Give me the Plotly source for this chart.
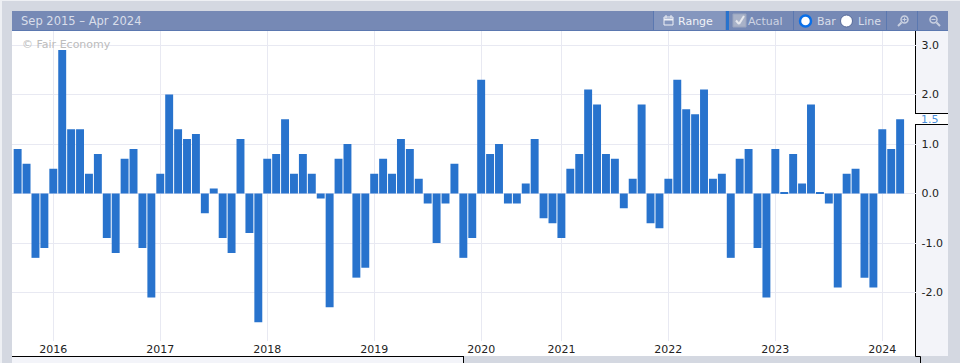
import plotly.graph_objects as go

W, H = 960, 363
months = [
    "2015-09", "2015-10", "2015-11", "2015-12",
    "2016-01", "2016-02", "2016-03", "2016-04", "2016-05", "2016-06", "2016-07", "2016-08", "2016-09", "2016-10", "2016-11", "2016-12",
    "2017-01", "2017-02", "2017-03", "2017-04", "2017-05", "2017-06", "2017-07", "2017-08", "2017-09", "2017-10", "2017-11", "2017-12",
    "2018-01", "2018-02", "2018-03", "2018-04", "2018-05", "2018-06", "2018-07", "2018-08", "2018-09", "2018-10", "2018-11", "2018-12",
    "2019-01", "2019-02", "2019-03", "2019-04", "2019-05", "2019-06", "2019-07", "2019-08", "2019-09", "2019-10", "2019-11", "2019-12",
    "2020-01", "2020-02", "2020-06", "2020-07", "2020-08", "2020-09", "2020-10", "2020-11", "2020-12",
    "2021-01", "2021-02", "2021-03", "2021-04", "2021-05", "2021-06", "2021-07", "2021-08", "2021-09", "2021-10", "2021-11", "2021-12",
    "2022-01", "2022-02", "2022-03", "2022-04", "2022-05", "2022-06", "2022-07", "2022-08", "2022-09", "2022-10", "2022-11", "2022-12",
    "2023-01", "2023-02", "2023-03", "2023-04", "2023-05", "2023-06", "2023-07", "2023-08", "2023-09", "2023-10", "2023-11", "2023-12",
    "2024-01", "2024-02", "2024-03",
]
values = [
    0.9, 0.6, -1.3, -1.1,
    0.5, 2.9, 1.3, 1.3, 0.4, 0.8, -0.9, -1.2, 0.7, 0.9, -1.1, -2.1,
    0.4, 2.0, 1.3, 1.1, 1.2, -0.4, 0.1, -0.9, -1.2, 1.1, -0.8, -2.6,
    0.7, 0.8, 1.5, 0.4, 0.8, 0.4, -0.1, -2.3, 0.7, 1.0, -1.7, -1.5,
    0.4, 0.7, 0.4, 1.1, 0.9, 0.3, -0.2, -1.0, -0.2, 0.6, -1.3, -0.9,
    2.3, 0.8, 1.0, -0.2, -0.2, 0.2, 1.1, -0.5, -0.6,
    -0.9, 0.5, 0.8, 2.1, 1.8, 0.8, 0.7, -0.3, 0.3, 1.8, -0.6, -0.7,
    0.3, 2.3, 1.7, 1.6, 2.1, 0.3, 0.4, -1.3, 0.7, 0.9, -1.1, -2.1,
    0.9, 0.02, 0.8, 0.2, 1.8, 0.02, -0.2, -1.9, 0.4, 0.5, -1.7, -1.9,
    1.3, 0.9, 1.5,
]
year_ticks = ["2016-01", "2017-01", "2018-01", "2019-01", "2020-01", "2021-01", "2022-01", "2023-01", "2024-01"]
year_labels = ["2016", "2017", "2018", "2019", "2020", "2021", "2022", "2023", "2024"]
y_ticks = [3, 2, 1, 0, -1, -2]
y_labels = ["3.0", "2.0", "1.0", "0.0", "-1.0", "-2.0"]

FONT = "DejaVu Sans"
BG = "#d4d8e1"
PANEL = "#f3f4f9"
HEAD = "#7689b5"
HEAD_LT = "#8496be"
LINE = "#5b78b0"
GRID = "#e8e9f2"
BLUE = "#2873cd"
HTXT = "#dfe3ee"


def X(p):
    return p / W


def Y(p):
    return 1 - p / H


shapes = []


def rect(x0, y0, x1, y1, fill, line=None, lw=0, layer="below"):
    shapes.append(dict(type="rect", xref="paper", yref="paper", x0=X(x0), x1=X(x1), y0=Y(y0), y1=Y(y1),
                       fillcolor=fill, line=dict(color=line or fill, width=lw), layer=layer))


def seg(x0, y0, x1, y1, color, lw=1, layer="below"):
    shapes.append(dict(type="line", xref="paper", yref="paper", x0=X(x0), x1=X(x1), y0=Y(y0), y1=Y(y1),
                       line=dict(color=color, width=lw), layer=layer))


def circ(cx, cy, r, fill, line, lw=1):
    shapes.append(dict(type="circle", xref="paper", yref="paper", x0=X(cx - r), x1=X(cx + r), y0=Y(cy + r), y1=Y(cy - r),
                       fillcolor=fill, line=dict(color=line, width=lw), layer="above"))


# outer bands and panels
rect(0, 0, W, 1, "#eef0f4")
rect(0, 0, 2, H, "#eef0f4")
rect(12, 31, 915, 356, "#ffffff")
rect(12, 357, 463, H, PANEL)
seg(12, 356.5, 463.5, 356.5, "#000000")
seg(463.5, 356, 463.5, H, "#000000")
# y-axis panel
rect(915, 31, 948, 356, PANEL)
rect(915, 113.5, 948, 124.5, "#ffffff")
seg(915.5, 31, 915.5, 113.5, "#000000")
seg(915.5, 124.5, 915.5, 356.5, "#000000")
seg(915, 113.5, 948, 113.5, "#000000")
seg(915, 124.5, 948, 124.5, "#000000")
seg(915.5, 356.5, 920.5, 356.5, "#000000")
seg(920.5, 356.5, 920.5, H, "#000000")
# header
rect(12, 11, 948, 30, HEAD)
rect(654, 11, 725, 30, HEAD_LT)
seg(12, 30.5, 948, 30.5, LINE)
for sx in (653.5, 793.5, 886.5, 917.5):
    seg(sx, 11, sx, 30, LINE)
rect(726, 11, 729, 30, BLUE)
# calendar icon
rect(664, 17, 673, 25, "rgba(0,0,0,0)", "#eef0f6", 1, "above")
seg(664, 19.5, 673, 19.5, "#eef0f6", 2, "above")
seg(666, 15, 666, 18, "#eef0f6", 1, "above")
seg(671, 15, 671, 18, "#eef0f6", 1, "above")
# checkbox
shapes.append(dict(type="rect", xref="paper", yref="paper", x0=X(733), x1=X(746), y0=Y(27), y1=Y(14),
                   fillcolor="#a9b2c8", line=dict(color="#9aa5bf", width=1), layer="above"))
seg(736, 20.5, 739, 24, "#e6e8ee", 2, "above")
seg(739, 24, 744, 16, "#e6e8ee", 2, "above")
# radios
circ(805.5, 21, 5.5, "#ffffff", "#0a6fe8", 2.5)
circ(846.5, 21, 6, "#ffffff", "#566a9a", 1)
# zoom icons
circ(904.5, 19.5, 3.5, "rgba(0,0,0,0)", "#c9d0e0", 1.5)
seg(901.5, 22.5, 898, 26, "#c9d0e0", 2, "above")
seg(902.5, 19.5, 906.5, 19.5, "#c9d0e0", 1, "above")
seg(904.5, 17.5, 904.5, 21.5, "#c9d0e0", 1, "above")
circ(933.5, 19.5, 3.5, "rgba(0,0,0,0)", "#c9d0e0", 1.5)
seg(936.5, 22.5, 940, 26, "#c9d0e0", 2, "above")
seg(931.5, 19.5, 935.5, 19.5, "#c9d0e0", 1, "above")


def label(px, py, text, color=HTXT, size=11, anchor="left", yref="paper", y=None):
    return dict(xref="paper", yref=yref, x=X(px), y=Y(py) if y is None else y, text=text, showarrow=False,
                xanchor=anchor, yanchor="middle", font=dict(family=FONT, size=size, color=color),
                xshift=0, yshift=0, borderpad=0, borderwidth=0)


annotations = [
    label(21, 21, "Sep 2015 – Apr 2024", "#d9deea", 11.5),
    label(22, 44.5, "© Fair Economy", "#bcbcbc"),
    label(678, 21, "Range", "#f1f3f8"),
    label(748, 21, "Actual", "#cdd3e2"),
    label(817, 21, "Bar", "#d9deea"),
    label(858, 21, "Line", "#d9deea"),
    label(920.5, 0, "1.5", "#4a8fdc", yref="y", y=values[-1]),
]

fig = go.Figure(go.Bar(x=months, y=values, marker=dict(color=BLUE, line=dict(width=0)), width=0.89, showlegend=False))

slot = 8.914
first = 17.64
fig.update_layout(
    width=W, height=H, autosize=False,
    margin=dict(l=0, r=0, t=0, b=0, pad=0),
    paper_bgcolor=BG, plot_bgcolor="#ffffff",
    shapes=shapes, annotations=annotations, showlegend=False, bargap=0.11,
    xaxis=dict(
        type="category", categoryorder="array", categoryarray=months,
        domain=[X(12), X(915.5)],
        range=[(12 - first) / slot, (915.5 - first) / slot],
        tickmode="array", tickvals=year_ticks, ticktext=year_labels,
        showgrid=True, gridcolor=GRID, gridwidth=1, zeroline=False, showline=False,
        ticks="", ticklabelstandoff=0,
        tickfont=dict(family=FONT, size=11, color="#222222"),
    ),
    yaxis=dict(
        domain=[Y(341), Y(31)], range=[-2.98, 3.283], side="right",
        tickmode="array", tickvals=y_ticks, ticktext=y_labels,
        showgrid=True, gridcolor=GRID, gridwidth=1, zeroline=False, showline=False,
        ticks="", ticklabelstandoff=5,
        tickfont=dict(family=FONT, size=11, color="#222222"),
    ),
)
fig.write_html("out.html", config=dict(displayModeBar=False),
               post_script="document.documentElement.style.overflow='hidden';document.body.style.margin='0';document.body.style.overflow='hidden';")
